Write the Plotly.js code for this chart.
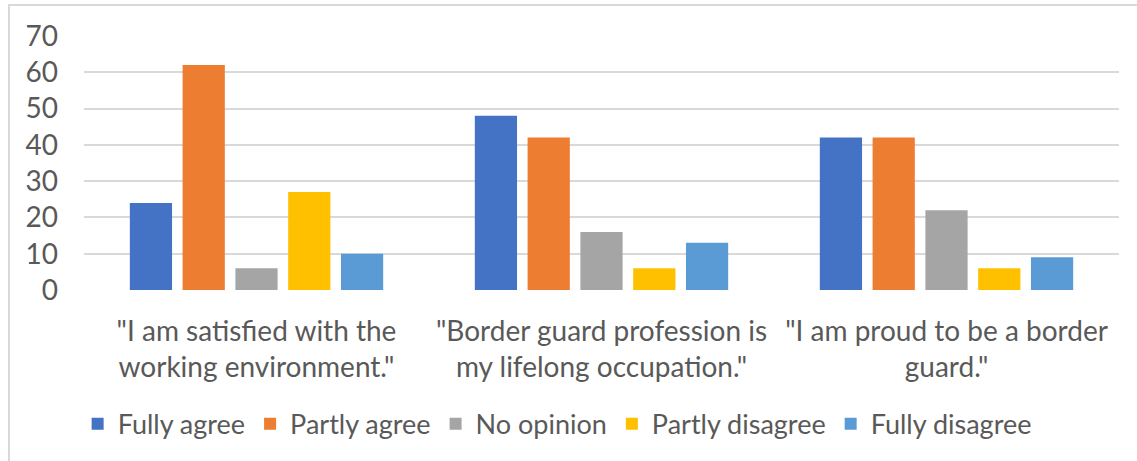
<!DOCTYPE html>
<html>
<head>
<meta charset="utf-8">
<script src="https://cdn.plot.ly/plotly-3.0.1.min.js"></script>
<style>
html,body{margin:0;padding:0;background:#fff;}
#wrap{position:relative;width:1137px;height:461px;overflow:hidden;}
#chart{position:absolute;left:0;top:0;width:1137px;height:461px;}
#frame{position:absolute;left:8px;top:4px;width:1140px;height:470px;border:2px solid #d9d9d9;box-sizing:border-box;pointer-events:none;}
</style>
</head>
<body>
<div id="wrap"><div id="chart"></div><div id="frame"></div></div>
<script>
const categories = ['"I am satisfied with the<br>working environment."', '"Border guard profession is<br>my lifelong occupation."', '"I am proud to be a border<br>guard."'];
const seriesNames = ['Fully agree', 'Partly agree', 'No opinion', 'Partly disagree', 'Fully disagree'];
const fullyAgree = [24, 48, 42];
const partlyAgree = [62, 42, 42];
const noOpinion = [6, 16, 22];
const partlyDisagree = [27, 6, 6];
const fullyDisagree = [10, 13, 9];
const yTicks = [0, 10, 20, 30, 40, 50, 60, 70];

const colors = ['#4472C4', '#ED7D31', '#A5A5A5', '#FFC000', '#5B9BD5'];
const values = [fullyAgree, partlyAgree, noOpinion, partlyDisagree, fullyDisagree];
const FONT = 'Lato, "Open Sans", sans-serif';
const TXT = '#595959';

const traces = values.map((v, i) => ({
  type: 'bar', name: seriesNames[i], x: categories, y: v,
  marker: {color: colors[i], line: {width: 0}},
  hoverinfo: 'x+y+name'
}));

const layout = {
  width: 1137, height: 461,
  margin: {l: 84, r: 18, t: 36, b: 171},
  paper_bgcolor: '#ffffff', plot_bgcolor: '#ffffff',
  font: {family: FONT, color: TXT, size: 28},
  barmode: 'group', bargap: 0.235, bargroupgap: 0.2,
  showlegend: true,
  legend: {orientation: 'h', xref: 'container', x: 0.49, xanchor: 'center', yref: 'container', y: 0.08, yanchor: 'middle',
           font: {family: FONT, color: TXT, size: 27}, traceorder: 'normal'},
  xaxis: {type: 'category', showgrid: false, zeroline: false, showline: false, ticks: '',
          tickfont: {family: FONT, color: TXT, size: 28}, ticklabelstandoff: 22},
  yaxis: {range: [0, 70], tickvals: yTicks, ticktext: yTicks.map(String), showgrid: true,
          gridcolor: '#d9d9d9', gridwidth: 2, zeroline: false, showline: false, ticks: '',
          tickfont: {family: FONT, color: TXT, size: 28}, ticklabelstandoff: 25}
};

Plotly.newPlot('chart', traces, layout, {displayModeBar: false, staticPlot: true});
</script>
</body>
</html>
